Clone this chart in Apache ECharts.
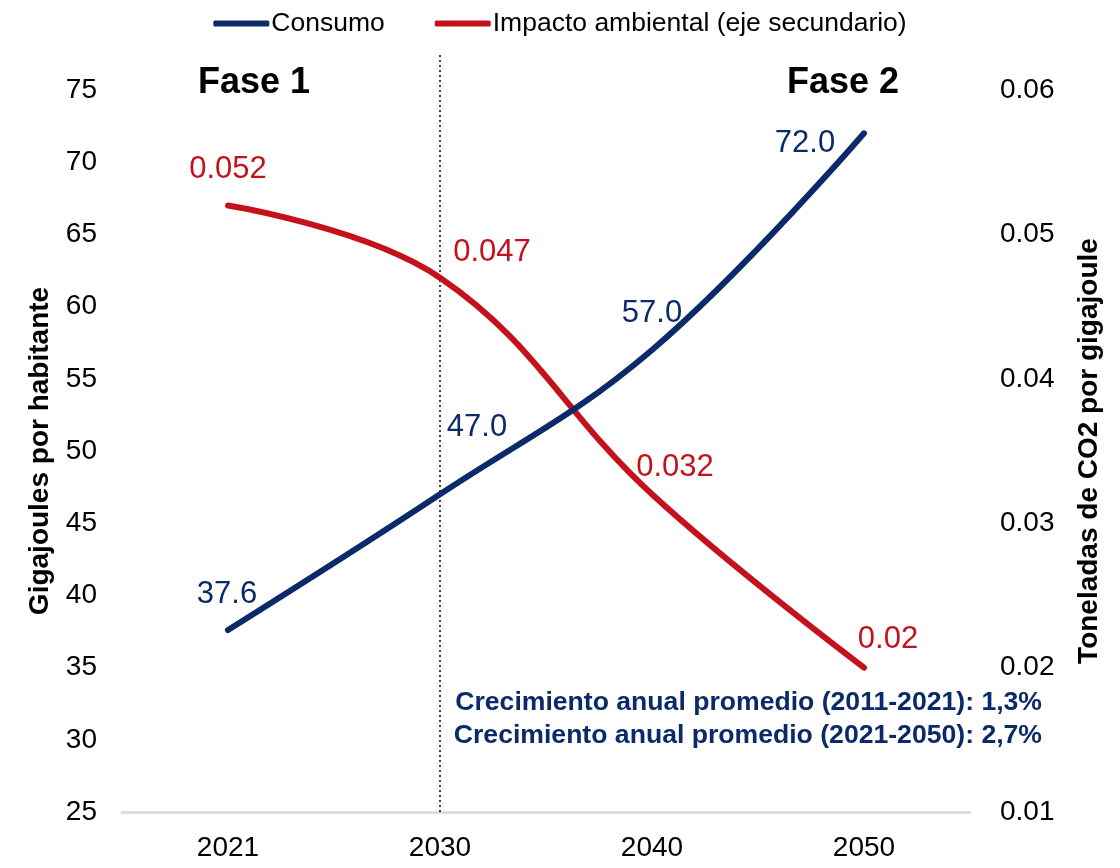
<!DOCTYPE html>
<html>
<head>
<meta charset="utf-8">
<script src="https://cdn.jsdelivr.net/npm/echarts@6/dist/echarts.min.js"></script>
<style>
  html, body { margin: 0; padding: 0; background: #ffffff; }
  #chart { width: 1120px; height: 868px; }
</style>
</head>
<body>
<div id="chart"></div>
<script>
// Years on the horizontal axis
const years = ['2021', '2030', '2040', '2050'];
// Energy consumption, gigajoules per inhabitant (left axis)
const consumo = [37.6, 47.0, 57.0, 72.0];
// Environmental impact, tonnes of CO2 per gigajoule (right axis)
const impacto = [0.052, 0.047, 0.032, 0.02];
// Growth notes shown in the lower right
const notas = [
  'Crecimiento anual promedio (2011-2021): 1,3%',
  'Crecimiento anual promedio (2021-2050): 2,7%'
];

const FONT = '"Liberation Sans", Arial, Helvetica, sans-serif';
const BLUE = '#0B2A6A';
const RED = '#C4111B';

// Offsets of each value label from its point, in pixels
const consumoLabelOffsets = [[-1, -36], [37, -67], [0, -36], [-59, 10]];
const impactoLabelOffsets = [[0, -36], [52, -25], [23, -27], [24, -28]];

function labelled(values, offsets, color, fmt) {
  return values.map((v, i) => ({
    value: v,
    label: {
      show: true,
      position: 'inside',
      offset: offsets[i],
      formatter: fmt,
      color: color,
      fontSize: 31,
      fontFamily: FONT
    }
  }));
}

const chart = echarts.init(document.getElementById('chart'), null, { renderer: 'canvas' });

const option = {
  backgroundColor: '#ffffff',
  animation: false,
  textStyle: { fontFamily: FONT },
  legend: {
    top: 5,
    left: 'center',
    itemWidth: 56,
    itemHeight: 6,
    itemGap: 50,
    icon: 'roundRect',
    textStyle: { fontSize: 26.5, color: '#000', fontFamily: FONT, padding: [0, 0, 0, -3] },
    data: ['Consumo', 'Impacto ambiental (eje secundario)']
  },
  grid: { left: 122, right: 150, top: 90, bottom: 56, containLabel: false },
  xAxis: {
    type: 'category',
    data: years,
    boundaryGap: true,
    axisLine: { show: true, lineStyle: { color: '#D9D9D9', width: 2.5 } },
    axisTick: { show: false },
    axisLabel: { fontSize: 28, color: '#000', margin: 22, fontFamily: FONT }
  },
  yAxis: [
    {
      type: 'value',
      min: 25, max: 75, interval: 5,
      name: 'Gigajoules por habitante',
      nameLocation: 'middle',
      nameGap: 68,
      nameTextStyle: { fontSize: 28, fontWeight: 'bold', color: '#000', fontFamily: FONT },
      axisLine: { show: false },
      axisTick: { show: false },
      splitLine: { show: false },
      axisLabel: { fontSize: 28, color: '#000', margin: 25, fontFamily: FONT }
    },
    {
      type: 'value',
      min: 0.01, max: 0.06, interval: 0.01,
      name: 'Toneladas de CO2 por gigajoule',
      nameLocation: 'middle',
      nameGap: 105,
      nameRotate: 90,
      nameTextStyle: { fontSize: 28, fontWeight: 'bold', color: '#000', fontFamily: FONT },
      axisLine: { show: false },
      axisTick: { show: false },
      splitLine: { show: false },
      axisLabel: {
        fontSize: 28, color: '#000', margin: 30, fontFamily: FONT,
        formatter: v => v.toFixed(2)
      }
    }
  ],
  series: [
    {
      name: 'Consumo',
      type: 'line',
      yAxisIndex: 0,
      smooth: 0.4,
      symbol: 'circle',
      symbolSize: 0,
      showSymbol: true,
      color: BLUE,
      lineStyle: { color: BLUE, width: 6, cap: 'round' },
      data: labelled(consumo, consumoLabelOffsets, BLUE, p => p.value.toFixed(1)),
      z: 3
    },
    {
      name: 'Impacto ambiental (eje secundario)',
      type: 'line',
      yAxisIndex: 1,
      smooth: 0.4,
      symbol: 'circle',
      symbolSize: 0,
      showSymbol: true,
      color: RED,
      lineStyle: { color: RED, width: 6, cap: 'round' },
      data: labelled(impacto, impactoLabelOffsets, RED, p => String(p.value)),
      z: 2
    }
  ]
};

chart.setOption(option);

// Phase divider at 2030, phase titles and growth notes
const xDiv = chart.convertToPixel({ xAxisIndex: 0 }, years[1]);
const yBase = chart.convertToPixel({ yAxisIndex: 0 }, 25);
chart.setOption({
  graphic: [
    {
      type: 'line',
      shape: { x1: xDiv, y1: 55, x2: xDiv, y2: yBase },
      style: { stroke: '#000', lineWidth: 1.5, lineDash: [2, 3] },
      z: 1
    },
    {
      type: 'text',
      x: 254, y: 83,
      style: { text: 'Fase 1', fontSize: 36, fontWeight: 'bold', fill: '#000', fontFamily: FONT, align: 'center', verticalAlign: 'middle' }
    },
    {
      type: 'text',
      x: 843, y: 83,
      style: { text: 'Fase 2', fontSize: 36, fontWeight: 'bold', fill: '#000', fontFamily: FONT, align: 'center', verticalAlign: 'middle' }
    },
    {
      type: 'text',
      x: 1042, y: 703,
      style: { text: notas[0], fontSize: 26.6, fontWeight: 'bold', fill: BLUE, fontFamily: FONT, align: 'right', verticalAlign: 'middle' }
    },
    {
      type: 'text',
      x: 1042, y: 736,
      style: { text: notas[1], fontSize: 26.6, fontWeight: 'bold', fill: BLUE, fontFamily: FONT, align: 'right', verticalAlign: 'middle' }
    }
  ]
});
</script>
</body>
</html>
